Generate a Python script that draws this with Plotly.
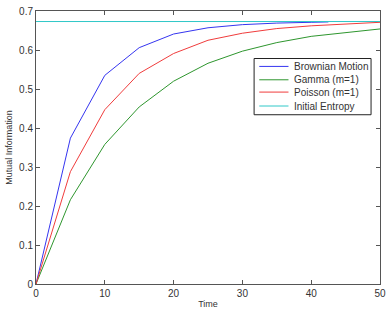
import plotly.graph_objects as go

time_bm = [0, 5, 10, 15, 20, 25, 30, 35, 40, 42.5]
brownian = [0, 0.374, 0.535, 0.606, 0.641, 0.657, 0.665, 0.669, 0.671, 0.672]
time = [0, 5, 10, 15, 20, 25, 30, 35, 40, 45, 50]
gamma = [0, 0.216, 0.358, 0.454, 0.520, 0.566, 0.597, 0.619, 0.635, 0.645, 0.654]
poisson = [0, 0.288, 0.447, 0.540, 0.591, 0.625, 0.643, 0.655, 0.662, 0.667, 0.671]
entropy_t = [0, 50]
entropy = [0.673, 0.673]

names = ["Brownian Motion", "Gamma (m=1)", "Poisson (m=1)", "Initial Entropy"]
colors = ["#3535f0", "#2e962e", "#f03c3c", "#30c8c8"]

fig = go.Figure()
series = [(time_bm, brownian), (time, gamma), (time, poisson), (entropy_t, entropy)]
for (xs, ys), n, c in zip(series, names, colors):
    fig.add_trace(go.Scatter(x=xs, y=ys, mode="lines", name=n,
                             line=dict(color=c, width=1), showlegend=False))

# manual legend (compact rows like the original)
shapes = [dict(type="rect", xref="paper", yref="paper", x0=0.634, x1=0.974,
               y0=0.620, y1=0.826, line=dict(color="#222", width=1),
               fillcolor="white", layer="above")]
annotations = []
row_y = [0.797, 0.748, 0.703, 0.652]
for n, c, yy in zip(names, colors, row_y):
    shapes.append(dict(type="line", xref="paper", yref="paper", x0=0.649, x1=0.734,
                       y0=yy, y1=yy, line=dict(color=c, width=1), layer="above"))
    annotations.append(dict(xref="paper", yref="paper", x=0.744, y=yy, text=n,
                            showarrow=False, xanchor="left", yanchor="middle",
                            font=dict(size=10, color="#333")))

axis_common = dict(showgrid=False, zeroline=False, showline=True, linecolor="#555",
                   linewidth=1, mirror="ticks", ticks="inside", ticklen=4,
                   tickcolor="#555", tickfont=dict(size=10, color="#333"))
fig.update_layout(
    width=391, height=312,
    margin=dict(l=36, r=5, t=9, b=27),
    paper_bgcolor="white", plot_bgcolor="white",
    font=dict(family="Liberation Sans, Arial, sans-serif", size=10, color="#333"),
    xaxis=dict(range=[0, 50], tickvals=[0, 10, 20, 30, 40, 50],
               title=dict(text="Time", standoff=2, font=dict(size=9)), **axis_common),
    yaxis=dict(range=[0, 0.7], tickvals=[0, 0.1, 0.2, 0.3, 0.4, 0.5, 0.6, 0.7],
               ticktext=["0", "0.1", "0.2", "0.3", "0.4", "0.5", "0.6", "0.7"],
               title=dict(text="Mutual Information", standoff=4, font=dict(size=9)),
               **axis_common),
    shapes=shapes,
    annotations=annotations,
    showlegend=False,
)
fig.write_html("out.html")
